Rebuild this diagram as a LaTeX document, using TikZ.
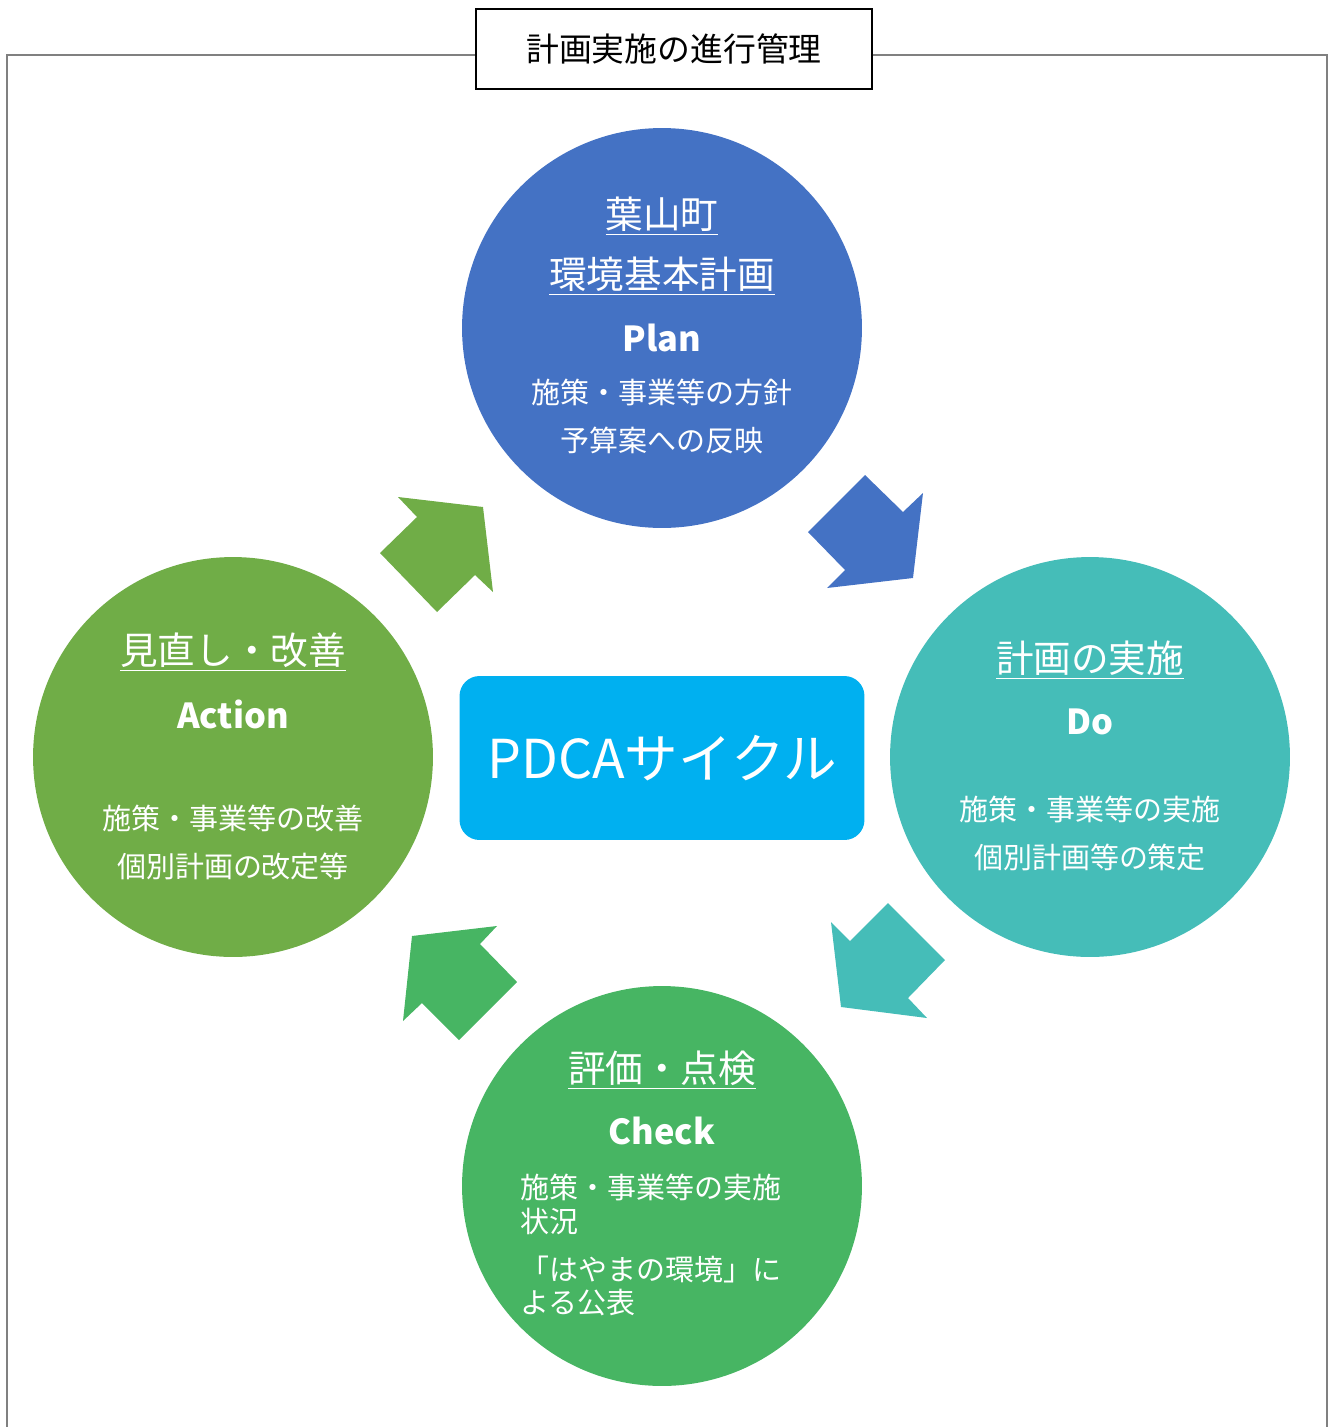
\documentclass[tikz,border=0pt]{standalone}
\usepackage{fontspec}
\setmainfont{Noto Sans CJK JP}
\usetikzlibrary{positioning}

\definecolor{planblue}{HTML}{4472C4}
\definecolor{doteal}{HTML}{45BDB8}
\definecolor{checkgreen}{HTML}{47B563}
\definecolor{actgreen}{HTML}{70AD47}
\definecolor{cyclecyan}{HTML}{00B0F0}

\newcommand\titlesize{\fontsize{18.7pt}{22pt}\selectfont}
\newcommand\headsize{\fontsize{21.4pt}{26pt}\selectfont}
\newcommand\latinsize{\fontsize{19.6pt}{24pt}\selectfont\bfseries}
\newcommand\bodysize{\fontsize{16.5pt}{20pt}\selectfont}

\begin{document}
\begin{tikzpicture}[x=0.02cm, y=-0.02cm,
  phase/.style={circle, minimum size=8cm, inner sep=0pt},
  words/.style={text=white, inner sep=0pt}]

\useasboundingbox (0,0) rectangle (1335,1427);

% title and frame
\node [draw, line width=0.8pt, minimum width=7.92cm, minimum height=1.6cm, inner sep=0pt]
  (title) at (674,49) {\titlesize 計画実施の進行管理};
\coordinate (fl) at (7,55);
\coordinate (fr) at (1327,55);
\draw [gray, line width=1.1pt] (7,1430) -- (fl) -- (fl -| title.west);
\draw [gray, line width=1.1pt] (fr -| title.east) -- (fr) -- (1327,1430);

% the four phases
\foreach \n/\c/\x/\y in {plan/planblue/662/328, do/doteal/1090/757,
                         check/checkgreen/662/1186, action/actgreen/233/757}
  \node [phase, fill=\c] (\n) at (\x,\y) {};

% centre box
\node [fill=cyclecyan, rounded corners=0.4cm, minimum width=8.1cm, minimum height=3.28cm,
  inner sep=0pt, text=white] (cycle) at (662,758)
  {\fontsize{30.5pt}{36pt}\selectfont PDCAサイクル};

% arrows
\fill [actgreen] (398,497) -- (483,507) -- (493,592) -- (475,575) -- (437,612)
  -- (380,553) -- (417,517) -- cycle;
\fill [planblue] (865,475) -- (903,512) -- (923,493) -- (913,578) -- (827,588)
  -- (845,570) -- (808,532) -- cycle;
\fill [doteal] (888,903) -- (945,960) -- (908,998) -- (927,1018) -- (841,1007)
  -- (831,922) -- (850,941) -- cycle;
\fill [checkgreen] (412,936) -- (497,926) -- (480,944) -- (517,982) -- (459,1040)
  -- (422,1003) -- (403,1021) -- cycle;

% plan
\node [words] (plan-h1) at (662,216) {\headsize\underline{葉山町}};
\node [words] (plan-h2) at (662,276) {\headsize\underline{環境基本計画}};
\node [words] (plan-en) at (662,338) {\latinsize Plan};
\node [words] (plan-b1) at (662,392) {\bodysize 施策・事業等の方針};
\node [words] (plan-b2) at (662,440) {\bodysize 予算案への反映};

% do
\node [words] (do-h) at (1090,660) {\headsize\underline{計画の実施}};
\node [words] (do-en) at (1090,722) {\latinsize Do};
\node [words] (do-b1) at (1090,809) {\bodysize 施策・事業等の実施};
\node [words] (do-b2) at (1090,857) {\bodysize 個別計画等の策定};

% action
\node [words] (act-h) at (233,652) {\headsize\underline{見直し・改善}};
\node [words] (act-en) at (233,714) {\latinsize Action};
\node [words] (act-b1) at (233,818) {\bodysize 施策・事業等の改善};
\node [words] (act-b2) at (233,866) {\bodysize 個別計画の改定等};

% check
\node [words] (chk-h) at (662,1070) {\headsize\underline{評価・点検}};
\node [words] (chk-en) at (662,1131) {\latinsize Check};
\node [words, anchor=west] (chk-b1) at (520,1187) {\bodysize 施策・事業等の実施};
\node [words, anchor=west] (chk-b2) at (520,1221) {\bodysize 状況};
\node [words, anchor=west] (chk-b3) at (520,1269) {\bodysize 「はやまの環境」に};
\node [words, anchor=west] (chk-b4) at (520,1303) {\bodysize よる公表};

\end{tikzpicture}
\end{document}
